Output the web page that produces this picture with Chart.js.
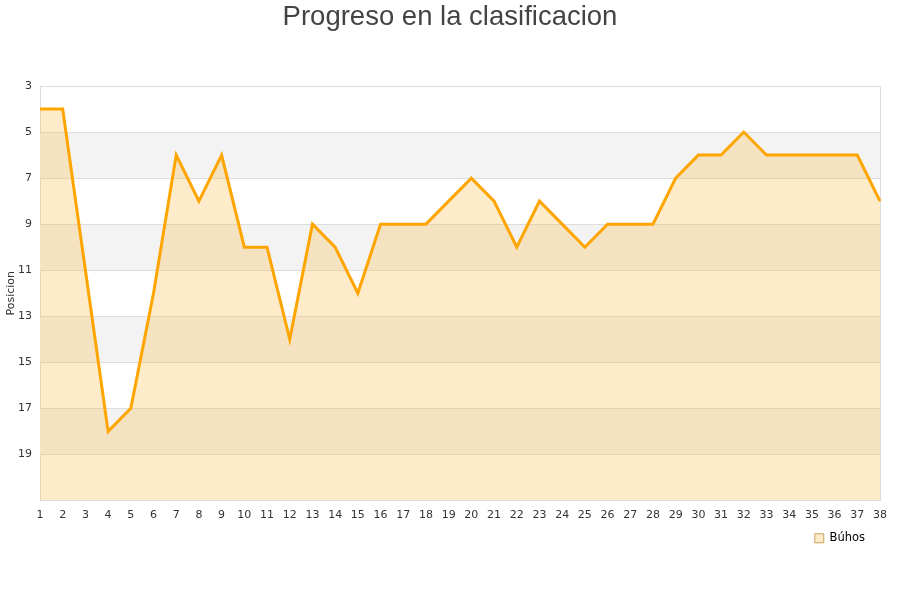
<!DOCTYPE html>
<html>
<head>
<meta charset="utf-8">
<script src="https://cdn.jsdelivr.net/npm/chart.js@4.4.0/dist/chart.umd.min.js"></script>
<style>
  html, body { margin: 0; padding: 0; background: #fff; }
  #wrap { width: 900px; height: 600px; }
</style>
</head>
<body>
<div id="wrap"><canvas id="c" width="900" height="600"></canvas></div>
<script>
const jornadas = [1,2,3,4,5,6,7,8,9,10,11,12,13,14,15,16,17,18,19,20,21,22,23,24,25,26,27,28,29,30,31,32,33,34,35,36,37,38];
const posiciones = [4,4,11,18,17,12,6,8,6,10,10,14,9,10,12,9,9,9,8,7,8,10,8,9,10,9,9,9,7,6,6,5,6,6,6,6,6,8];
const serieNombre = 'Búhos';
const tituloGrafico = 'Progreso en la clasificacion';
const tituloEjeY = 'Posicion';
const yTicks = [3,5,7,9,11,13,15,17,19];
const yMin = 3, yMax = 21;

const bandPlugin = {
  id: 'bands',
  afterLayout(chart) {
    if (chart.legend) { chart.legend.left -= 5; chart.legend.right -= 5; }
  },
  beforeDatasetsDraw(chart) {
    const {ctx, chartArea, scales: {y}} = chart;
    ctx.save();
    const bounds = yTicks.concat([yMax]);
    for (let i = 0; i < bounds.length - 1; i++) {
      if (i % 2 === 1) {
        const y1 = y.getPixelForValue(bounds[i]);
        const y2 = y.getPixelForValue(bounds[i + 1]);
        ctx.fillStyle = '#f3f3f3';
        ctx.fillRect(chartArea.left, Math.min(y1, y2), chartArea.right - chartArea.left, Math.abs(y2 - y1));
      }
    }
    ctx.strokeStyle = '#dddddd';
    ctx.lineWidth = 1;
    yTicks.forEach(v => {
      const py = Math.round(y.getPixelForValue(v)) + 0.5;
      ctx.beginPath();
      ctx.moveTo(chartArea.left, py);
      ctx.lineTo(chartArea.right, py);
      ctx.stroke();
    });
    ctx.beginPath();
    ctx.moveTo(Math.round(chartArea.right) + 0.5, chartArea.top);
    ctx.lineTo(Math.round(chartArea.right) + 0.5, chartArea.bottom);
    ctx.stroke();
    ctx.restore();
  }
};

new Chart(document.getElementById('c'), {
  type: 'line',
  data: {
    labels: jornadas,
    datasets: [{
      label: serieNombre,
      data: posiciones,
      borderColor: '#FFA500',
      backgroundColor: 'rgba(250, 190, 80, 0.3)',
      borderWidth: 3,
      pointRadius: 0,
      pointHoverRadius: 0,
      tension: 0,
      fill: { value: yMax }
    }]
  },
  options: {
    responsive: false,
    animation: false,
    devicePixelRatio: 1,
    layout: { padding: { left: 0, right: 0, top: 0, bottom: 46 } },
    plugins: {
      title: {
        display: true,
        text: tituloGrafico,
        color: '#444444',
        font: { family: 'Liberation Sans, Arial, sans-serif', size: 27.5, weight: 'normal' },
        padding: { top: 1, bottom: 52 }
      },
      legend: {
        display: true,
        position: 'bottom',
        align: 'end',
        fullSize: false,
        labels: {
          color: '#000',
          font: { family: 'DejaVu Sans, sans-serif', size: 11.5 },
          boxWidth: 9,
          boxHeight: 9,
          padding: 10,
          generateLabels(chart) {
            return [{
              text: serieNombre,
              fillStyle: '#FDEBC9',
              strokeStyle: '#C8A060',
              lineWidth: 1,
              datasetIndex: 0,
              fontColor: '#000'
            }];
          }
        }
      },
      tooltip: { enabled: false }
    },
    scales: {
      x: {
        type: 'category',
        offset: false,
        grid: { display: false, drawTicks: false },
        border: { display: true, color: '#dddddd' },
        ticks: {
          color: '#333',
          font: { family: 'DejaVu Sans, sans-serif', size: 11 },
          maxRotation: 0,
          autoSkip: false,
          padding: 8
        },
        afterFit(scale) { scale.height = 22; }
      },
      y: {
        reverse: true,
        min: yMin,
        max: yMax,
        afterBuildTicks(scale) {
          scale.ticks = yTicks.concat([yMax]).map(v => ({ value: v }));
        },
        ticks: {
          color: '#333',
          font: { family: 'DejaVu Sans, sans-serif', size: 11 },
          padding: 8,
          callback: (v) => (yTicks.includes(v) ? String(v) : '')
        },
        grid: { color: '#dddddd', drawTicks: false },
        border: { display: true, color: '#dddddd' },
        title: {
          display: true,
          text: tituloEjeY,
          color: '#333',
          font: { family: 'DejaVu Sans, sans-serif', size: 11 },
          padding: { top: 5, bottom: 0 }
        },
        afterFit(scale) { scale.width = 40; }
      },
      yR: {
        type: 'linear',
        position: 'right',
        display: true,
        ticks: { display: false },
        grid: { display: false, drawTicks: false },
        border: { display: false },
        afterFit(scale) { scale.width = 20; }
      }
    }
  },
  plugins: [bandPlugin]
});
</script>
</body>
</html>
